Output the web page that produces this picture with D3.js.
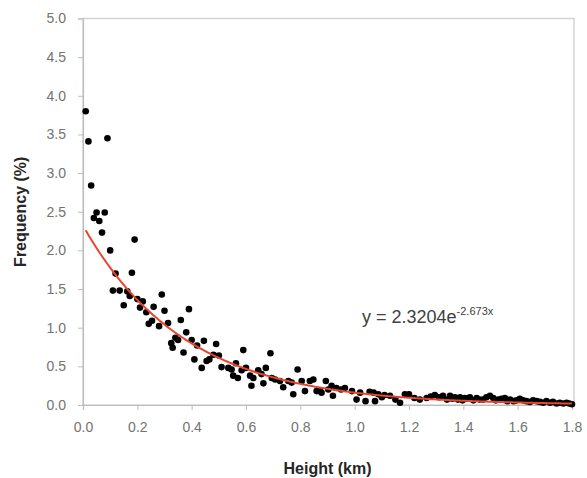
<!DOCTYPE html>
<html>
<head>
<meta charset="utf-8">
<script src="https://cdn.jsdelivr.net/npm/d3@7"></script>
<style>
  html, body { margin: 0; padding: 0; background: #fff; }
  svg { display: block; }
</style>
</head>
<body>
<div id="chart"></div>
<script>
const heights = [
  0.01, 0.02, 0.03, 0.04, 0.05, 0.06, 0.07, 0.08, 0.09, 0.10,
  0.11, 0.12, 0.135, 0.15, 0.163, 0.172, 0.18, 0.19, 0.20, 0.21,
  0.22, 0.233, 0.242, 0.254, 0.26, 0.28, 0.29, 0.30, 0.313, 0.325,
  0.33, 0.34, 0.35, 0.36, 0.37, 0.38, 0.39, 0.40, 0.41, 0.42,
  0.437, 0.445, 0.455, 0.465, 0.48, 0.49, 0.50, 0.51, 0.535, 0.547,
  0.553, 0.563, 0.57, 0.584, 0.59, 0.60, 0.615, 0.62, 0.627, 0.645,
  0.657, 0.664, 0.673, 0.69, 0.695, 0.707, 0.725, 0.737, 0.756, 0.768,
  0.774, 0.79, 0.805, 0.817, 0.835, 0.848, 0.86, 0.872, 0.878, 0.894,
  0.903, 0.915, 0.92, 0.933, 0.95, 0.964, 0.99, 1.007, 1.02, 1.04,
  1.055, 1.07, 1.075, 1.087, 1.10, 1.11, 1.13, 1.15, 1.167, 1.185,
  1.20, 1.22, 1.24, 1.265, 1.28, 1.295, 1.31, 1.325, 1.34, 1.351,
  1.36, 1.369, 1.38, 1.388, 1.397, 1.406, 1.415, 1.424, 1.437, 1.449,
  1.46, 1.473, 1.485, 1.498, 1.51, 1.52, 1.528, 1.54, 1.553, 1.562,
  1.572, 1.585, 1.596, 1.608, 1.62, 1.632, 1.645, 1.657, 1.67, 1.682,
  1.694, 1.706, 1.719, 1.73, 1.743, 1.755, 1.768, 1.78, 1.79, 1.80
];
const frequencies = [
  3.80, 3.41, 2.84, 2.42, 2.49, 2.38, 2.23, 2.49, 3.45, 2.00,
  1.48, 1.70, 1.48, 1.29, 1.47, 1.41, 1.71, 2.14, 1.37, 1.26,
  1.34, 1.20, 1.05, 1.09, 1.27, 1.02, 1.43, 1.22, 1.06, 0.80,
  0.74, 0.87, 0.84, 1.10, 0.68, 0.94, 1.24, 0.84, 0.59, 0.77,
  0.48, 0.83, 0.57, 0.59, 0.65, 0.79, 0.64, 0.49, 0.48, 0.46,
  0.38, 0.54, 0.35, 0.45, 0.71, 0.48, 0.38, 0.25, 0.35, 0.45,
  0.40, 0.28, 0.48, 0.67, 0.35, 0.33, 0.31, 0.23, 0.31, 0.29,
  0.14, 0.46, 0.31, 0.18, 0.31, 0.33, 0.18, 0.18, 0.16, 0.31,
  0.20, 0.25, 0.12, 0.22, 0.20, 0.22, 0.18, 0.07, 0.16, 0.05,
  0.17, 0.16, 0.05, 0.14, 0.10, 0.13, 0.12, 0.07, 0.03, 0.14,
  0.14, 0.09, 0.07, 0.09, 0.11, 0.13, 0.10, 0.12, 0.07, 0.12,
  0.08, 0.10, 0.07, 0.10, 0.06, 0.09, 0.08, 0.10, 0.06, 0.09,
  0.07, 0.07, 0.10, 0.12, 0.09, 0.06, 0.07, 0.08, 0.09, 0.05,
  0.07, 0.05, 0.06, 0.08, 0.06, 0.05, 0.04, 0.06, 0.05, 0.04,
  0.03, 0.05, 0.03, 0.04, 0.02, 0.03, 0.02, 0.03, 0.02, 0.01
];

// exponential trendline as printed on the chart: y = 2.3204e^(-2.673x)
const fitA = 2.3204;
const fitB = -2.673;
const fitRange = [0.01, 1.8];

const xTicks = [0, 0.2, 0.4, 0.6, 0.8, 1.0, 1.2, 1.4, 1.6, 1.8];
const yTicks = [0, 0.5, 1.0, 1.5, 2.0, 2.5, 3.0, 3.5, 4.0, 4.5, 5.0];

const width = 587, height = 478;
const margin = {top: 18.5, right: 15, bottom: 73, left: 83};
const fmt = d3.format(".1f");

const svg = d3.select("#chart").append("svg")
    .attr("width", width)
    .attr("height", height)
    .attr("font-family", "'Liberation Sans', 'DejaVu Sans', sans-serif");

const x = d3.scaleLinear().domain([0, 1.8]).range([margin.left, width - margin.right]);
const y = d3.scaleLinear().domain([0, 5]).range([height - margin.bottom, margin.top]);

// plot area border
svg.append("rect")
    .attr("x", x(0))
    .attr("y", y(5))
    .attr("width", x(1.8) - x(0) + 2)
    .attr("height", y(0) - y(5))
    .attr("fill", "none")
    .attr("stroke", "#d4d4d4")
    .attr("stroke-width", 1.5);

const xAxis = svg.append("g")
    .attr("transform", `translate(0,${y(0)})`)
    .call(d3.axisBottom(x).tickValues(xTicks).tickFormat(fmt).tickSizeOuter(0).tickSize(5).tickPadding(12));

const yAxis = svg.append("g")
    .attr("transform", `translate(${x(0)},0)`)
    .call(d3.axisLeft(y).tickValues(yTicks).tickFormat(fmt).tickSizeOuter(0).tickSize(5).tickPadding(12));

[xAxis, yAxis].forEach(g => {
  g.select(".domain").attr("stroke", "#bdbdbd").attr("stroke-width", 1.2);
  g.selectAll(".tick line").attr("stroke", "#bdbdbd");
  g.selectAll(".tick text").attr("fill", "#737373").attr("font-size", 14);
});

// scatter
const points = heights.map((h, i) => ({h, f: frequencies[i]}));
svg.append("g")
  .selectAll("circle")
  .data(points)
  .join("circle")
    .attr("cx", d => x(d.h))
    .attr("cy", d => y(d.f))
    .attr("r", 3.3)
    .attr("fill", "#000");

// trendline
const fitX = d3.range(fitRange[0], fitRange[1] + 0.001, 0.01);
const line = d3.line()
    .x(d => x(d))
    .y(d => y(fitA * Math.exp(fitB * d)))
    .curve(d3.curveMonotoneX);
svg.append("path")
    .datum(fitX)
    .attr("d", line)
    .attr("fill", "none")
    .attr("stroke", "#e8452f")
    .attr("stroke-width", 2);

// equation label
const eq = svg.append("text")
    .attr("x", 362)
    .attr("y", 323)
    .attr("fill", "#404040")
    .attr("font-size", 18);
eq.append("tspan").text("y = 2.3204e");
eq.append("tspan")
    .attr("font-size", 11)
    .attr("dy", -8)
    .text("-2.673x");

// axis titles
svg.append("text")
    .attr("x", (x(0) + x(1.8)) / 2)
    .attr("y", 474)
    .attr("text-anchor", "middle")
    .attr("font-weight", "bold")
    .attr("font-size", 16)
    .attr("fill", "#262626")
    .text("Height (km)");

svg.append("text")
    .attr("transform", `translate(26,${(y(0) + y(5)) / 2}) rotate(-90)`)
    .attr("text-anchor", "middle")
    .attr("font-weight", "bold")
    .attr("font-size", 16)
    .attr("fill", "#262626")
    .text("Frequency (%)");
</script>
</body>
</html>
